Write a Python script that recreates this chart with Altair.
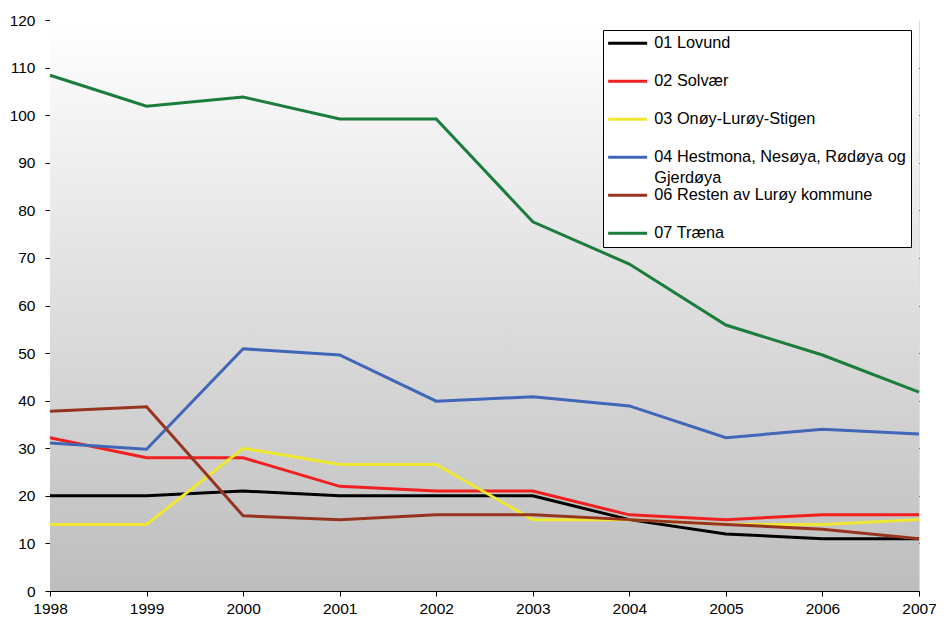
import altair as alt
import pandas as pd

years = [1998, 1999, 2000, 2001, 2002, 2003, 2004, 2005, 2006, 2007]
series_names = [
    "01 Lovund",
    "02 Solvær",
    "03 Onøy-Lurøy-Stigen",
    "04 Hestmona, Nesøya, Rødøya og Gjerdøya",
    "06 Resten av Lurøy kommune",
    "07 Træna",
]
lovund = [20, 20, 21, 20, 20, 20, 15, 12, 11, 11]
solvaer = [32.2, 28, 28, 22, 21, 21, 16, 15, 16, 16]
onoy = [14, 14, 30, 26.6, 26.6, 15, 15, 14, 14, 15]
hestmona = [31.1, 29.8, 50.9, 49.6, 39.9, 40.8, 38.9, 32.2, 34, 33]
resten = [37.8, 38.7, 15.8, 15, 16, 16, 15, 14, 13, 11]
traena = [108.4, 101.9, 103.8, 99.2, 99.2, 77.6, 68.7, 55.9, 49.6, 41.8]
colors = ["#000000", "#f02020", "#f0e830", "#4166b8", "#963420", "#1a7d3c"]

values = [lovund, solvaer, onoy, hestmona, resten, traena]
rows = []
for name, vals in zip(series_names, values):
    for yr, v in zip(years, vals):
        rows.append({"year": yr, "value": v, "series": name})
df = pd.DataFrame(rows)

FONT = "Liberation Sans"
W, H = 869, 571
last_name = series_names[-1]

background = alt.Chart(pd.DataFrame({"a": [0]})).mark_rect(
    color=alt.LinearGradient(
        gradient="linear",
        stops=[alt.GradientStop(color="#ffffff", offset=0), alt.GradientStop(color="#bdbdbd", offset=1)],
        x1=0, x2=0, y1=0, y2=1,
    )
).encode(x=alt.value(0), x2=alt.value(W), y=alt.value(0), y2=alt.value(H))

label_expr = (
    "indexof(datum.label, ' og ') > 0 ? split(replace(datum.label, ' og ', ' og|'), '|') : "
    f"(datum.label == '{last_name}' ? datum.label : [datum.label, ''])"
)

lines = alt.Chart(df).mark_line(strokeWidth=3).encode(
    x=alt.X(
        "year:Q",
        scale=alt.Scale(domain=[1998, 2007], nice=False, zero=False),
        axis=alt.Axis(
            values=years, format="d", title=None, grid=False,
            domainColor="#000000", tickColor="#000000", tickSize=5,
            labelPadding=5, labelFlush=False,
            labelFont=FONT, labelFontSize=15.5, labelColor="#000000",
        ),
    ),
    y=alt.Y(
        "value:Q",
        scale=alt.Scale(domain=[0, 120], nice=False),
        axis=alt.Axis(
            values=list(range(0, 121, 10)), title=None, grid=True,
            gridColor="#000000", gridDash=[8, 6], gridWidth=1,
            gridOpacity={"condition": {"test": "datum.value === 120", "value": 0}, "value": 1},
            domainColor="#000000", tickColor="#000000", tickSize=5,
            labelPadding=10,
            labelFont=FONT, labelFontSize=15.5, labelColor="#000000",
        ),
    ),
    color=alt.Color(
        "series:N",
        scale=alt.Scale(domain=series_names, range=colors),
        legend=alt.Legend(
            title=None, orient="none", legendX=553, legendY=10,
            fillColor="#ffffff", strokeColor="#000000", padding=5,
            symbolType="M-1.6,0H6.2", symbolSize=100, symbolStrokeWidth=3,
            labelFont=FONT, labelFontSize=16.3, labelColor="#000000",
            labelOffset=30, labelLimit=400, rowPadding=-0.5,
            labelExpr=label_expr,
        ),
    ),
)

chart = alt.layer(background, lines).properties(
    width=W, height=H,
    autosize=alt.AutoSizeParams(type="none"),
    padding={"left": 42, "top": 12, "right": 17, "bottom": 24},
).configure_view(
    stroke="#808080",
).configure(
    style={"guide-label": {"lineHeight": 21}},
)

chart.save("out.html", embed_options={"renderer": "svg", "actions": False})
